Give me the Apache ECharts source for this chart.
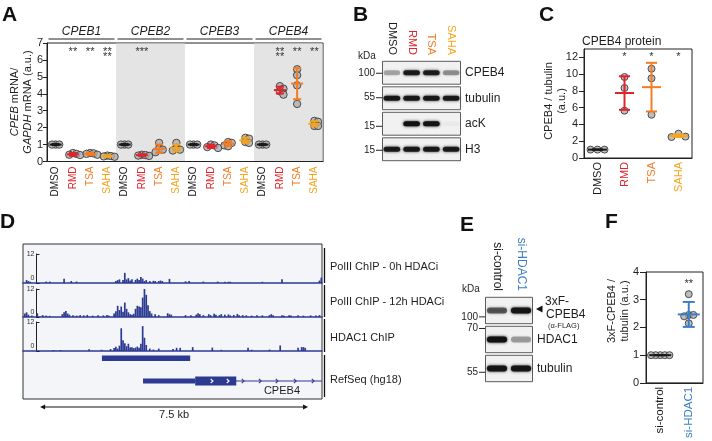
<!DOCTYPE html>
<html><head><meta charset="utf-8">
<script src="https://cdn.jsdelivr.net/npm/echarts@6.0.0/dist/echarts.min.js"></script>
<style>html,body{margin:0;padding:0;background:#fff;}#chart{width:712px;height:441px;}</style>
</head><body><div id="chart"></div>
<script>
// ================= DATA =================
// Panel A : CPEB mRNA / GAPDH mRNA
const genesA = ['CPEB1', 'CPEB2', 'CPEB3', 'CPEB4'];
const treatmentsA = ['DMSO', 'RMD', 'TSA', 'SAHA'];
const pointsA = [
  [1, 1, 1], [0.5, 0.4, 0.38, 0.45], [0.45, 0.4, 0.5, 0.48], [0.3, 0.28, 0.35, 0.32],
  [1, 1, 1], [0.35, 0.4, 0.38, 0.33], [0.55, 0.7, 1.1, 0.75], [0.65, 0.8, 1.1, 0.7],
  [1, 1, 1], [0.8, 1.0, 0.95, 0.85], [0.9, 1.15, 1.1, 0.95], [1.1, 1.4, 1.35, 1.15],
  [1, 1, 1], [4.45, 4.15, 3.95, 4.3], [5.45, 5.1, 4.5, 3.4], [2.4, 2.1, 2.35, 2.1]
];
const meansA = [1, 0.42, 0.45, 0.32, 1, 0.38, 0.75, 0.8, 1, 0.9, 1.05, 1.25, 1, 4.22, 4.6, 2.23];
const sdsA = [0.03, 0.08, 0.07, 0.05, 0.03, 0.05, 0.25, 0.2, 0.03, 0.1, 0.15, 0.15, 0.03, 0.2, 0.92, 0.15];
const starsA = [[1, '**'], [2, '**'], [3, '**\n**'], [5, '***'], [13, '**\n**'], [14, '**'], [15, '**']];
const yTicksA = [0, 1, 2, 3, 4, 5, 6, 7];
const shadedGenesA = [1, 3];
const yNameA = '{i|CPEB} mRNA/\n{i|GAPDH} mRNA (a.u.)';

// Panel B : western blot
const lanesB = ['DMSO', 'RMD', 'TSA', 'SAHA'];
const rowsB = ['CPEB4', 'tubulin', 'acK', 'H3'];
const bandsB = [
  [0.3, 0.9, 0.88, 0.38],
  [0.92, 0.92, 0.92, 0.9],
  [0, 1, 0.98, 0.03],
  [0.9, 0.93, 0.93, 0.9]
];
const markersB = [['100', 0, 0.52], ['55', 1, 0.48], ['15', 2, 0.6], ['15', 3, 0.54]];

// Panel C : CPEB4 protein
const treatC = ['DMSO', 'RMD', 'TSA', 'SAHA'];
const pointsC = [[1, 1, 1], [9.66, 8.35, 5.64], [10.65, 9.5, 5.16], [2.9, 2.5, 2.55]];
const meansC = [1, 7.75, 8.45, 2.65];
const sdsC = [0, 2.0, 2.9, 0.15];
const starsC = [[1, '*'], [2, '*'], [3, '*']];
const yTicksC = [0, 2, 4, 6, 8, 10, 12];
const yNameC = 'CPEB4 / tubulin\n(a.u.)';

// Panel D : ChIP tracks (bin index of 0.05 kb, signal)
const BIN_KB = 0.05;
const VIEW_KB = 8.37;
const chip0h = [[2,1.2],[3,0.8],[4,0.5],[13,0.6],[15,0.6],[23,1.8],[27,0.8],[30,0.6],[52,0.8],[53,1.2],[54,1.5],[56,1.2],[57,4.2],[58,1.5],[59,2.0],[60,1.0],[61,1.6],[63,1.3],[64,1.8],[65,1.2],[66,2.5],[67,1.8],[68,0.8],[69,1.2],[71,0.8],[73,0.9],[74,0.8],[76,0.8],[77,1.0],[78,0.8],[82,1.7],[91,0.7],[93,0.8],[101,0.6],[109,0.6],[113,0.5],[115,0.5],[116,0.5],[134,0.5],[145,1.6],[166,1.0],[167,2.2]];
const chip12h = [[1,1.5],[2,2.0],[3,1.0],[5,0.6],[8,1.6],[11,0.8],[13,0.6],[15,0.5],[22,1.2],[23,2.0],[24,2.6],[25,1.5],[26,1.0],[28,0.8],[30,0.6],[32,0.8],[34,0.7],[36,0.9],[39,0.6],[42,0.8],[45,0.7],[47,0.9],[48,0.6],[51,1.5],[52,2.5],[53,4.8],[54,3.0],[55,4.5],[56,2.2],[57,6.2],[58,3.5],[59,2.0],[60,1.2],[61,1.0],[62,1.4],[63,3.5],[64,4.8],[65,4.5],[66,4.2],[67,8.3],[68,12],[69,9.5],[70,5.0],[71,2.5],[72,1.5],[74,1.2],[76,0.8],[81,1.6],[82,1.2],[83,1.0],[91,0.8],[94,0.7],[97,1.0],[98,1.6],[99,1.2],[101,0.8],[104,1.2],[105,0.8],[107,1.4],[108,1.0],[110,0.8],[111,1.2],[113,1.0],[115,1.1],[116,0.7],[118,0.9],[120,1.3],[121,0.8],[123,0.8],[125,0.7],[128,0.6],[131,0.7],[134,0.7],[138,0.8],[139,1.2],[140,0.7],[145,0.8],[146,0.6],[149,0.7],[150,0.6],[154,0.7],[157,0.6],[161,0.7],[164,0.6],[166,0.8]];
const chipHDAC1 = [[17,0.4],[21,0.4],[37,0.7],[44,0.5],[49,0.8],[51,1.2],[52,1.8],[53,1.0],[54,2.2],[55,9.4],[56,4.5],[57,3.2],[58,2.0],[59,3.0],[60,1.5],[61,1.6],[62,1.2],[63,1.4],[64,1.8],[65,1.3],[66,3.0],[67,10.3],[68,5.5],[69,2.5],[71,1.0],[73,0.6],[76,1.0],[84,0.8],[86,1.3],[88,1.3],[95,1.6],[106,1.4],[111,0.5],[126,1.3],[128,0.5],[138,0.6],[144,2.3],[154,1.3],[156,1.6],[157,1.6],[158,1.3]];
const trackLabelsD = ['PolII ChIP - 0h HDACi', 'PolII ChIP - 12h HDACi', 'HDAC1 ChIP', 'RefSeq (hg18)'];
const bindingRegionKb = [2.21, 4.68];
const geneName = 'CPEB4';
const geneSpanKb = [3.36, 8.37];
const geneUtrKb = [3.36, 4.82];
const geneCdsKb = [4.82, 5.97];
const exonStrandKb = [5.29, 5.74];
const intronStrandKb = [6.16, 6.64, 7.11, 7.62, 8.12];
const scaleBarKb = [0.48, 7.98];
const scaleBarLabel = '7.5 kb';

// Panel E : western blot
const lanesE = ['si-control', 'si-HDAC1'];
const rowsE = ['3xF-CPEB4', 'HDAC1', 'tubulin'];
const bandsE = [[0.6, 0.95], [1, 0.33], [0.95, 0.95]];
const markersE = [['100', 0, 0.72], ['70', 1, 0.12], ['55', 2, 0.63]];

// Panel F : 3xF-CPEB4 / tubulin
const catF = ['si-control', 'si-HDAC1'];
const pointsF = [[1, 1, 1, 1, 1], [3.2, 2.45, 2.4, 2.45, 2.15]];
const meansF = [1, 2.47];
const sdsF = [0, 0.45];
const starsF = [[1, '**']];
const yNameF = '3xF-CPEB4 /\ntubulin (a.u.)';

// ================= STYLE =================
const FONT = '"Liberation Sans", Arial, Helvetica, sans-serif';
const TXT = '#1e1e1e';
const NAVY = '#2c3a92';
const treatColor = { DMSO: '#1a1a1a', RMD: '#e3232b', TSA: '#f47c22', SAHA: '#f6a41d' };
const siColor = { 'si-control': '#1a1a1a', 'si-HDAC1': '#3b7ec6' };

function dotSeries(xi, yi, points, means, sds, colorOf, st) {
  return {
    type: 'custom', xAxisIndex: xi, yAxisIndex: yi, clip: false, z: 5,
    data: means.map((m, i) => [i, m]),
    renderItem: function (params, api) {
      const i = params.dataIndex;
      const cx = api.coord([i, 0])[0];
      const ys = points[i].map(v => api.coord([i, v])[1]);
      const order = ys.map((_, k) => k).sort((a, b) => ys[a] - ys[b]);
      const placed = [];
      order.forEach(k => {
        for (let n = 0; n < 40; n++) {
          const m = Math.ceil(n / 2) * (n % 2 ? 1 : -1);
          const off = m * st.step;
          if (placed.every(p => Math.hypot(p[0] - off, p[1] - ys[k]) >= st.step - 1e-6)) { placed.push([off, ys[k]]); break; }
        }
      });
      const ch = placed.map(p => ({ type: 'circle', shape: { cx: cx + p[0], cy: p[1], r: st.r },
        style: { fill: 'rgba(172,172,172,0.8)', stroke: '#3c3c3c', lineWidth: 0.9 } }));
      const col = colorOf(i);
      const ym = api.coord([i, means[i]])[1];
      const yt = api.coord([i, means[i] + sds[i]])[1];
      const yb = api.coord([i, Math.max(0, means[i] - sds[i])])[1];
      const ls = { stroke: col, lineWidth: st.lw };
      ch.push({ type: 'line', shape: { x1: cx, y1: yt, x2: cx, y2: yb }, style: ls });
      ch.push({ type: 'line', shape: { x1: cx - st.cap, y1: yt, x2: cx + st.cap, y2: yt }, style: ls });
      ch.push({ type: 'line', shape: { x1: cx - st.cap, y1: yb, x2: cx + st.cap, y2: yb }, style: ls });
      ch.push({ type: 'line', shape: { x1: cx - st.mean, y1: ym, x2: cx + st.mean, y2: ym }, style: ls });
      return { type: 'group', children: ch };
    }
  };
}

function starSeries(xi, yi, stars, lineH, yOff) {
  return {
    type: 'custom', xAxisIndex: xi, yAxisIndex: yi, clip: false, z: 6,
    data: stars.map(s => [s[0], 0]),
    renderItem: function (params, api) {
      const cs = params.coordSys;
      const x = api.coord([api.value(0), 0])[0];
      return { type: 'text', style: { text: stars[params.dataIndex][1], x: x, y: cs.y + yOff,
        align: 'center', verticalAlign: 'top', fontSize: 11, fontFamily: FONT, fill: '#333', lineHeight: lineH } };
    }
  };
}

function blotSeries(xi, yi, rows, bands, markers, bandH) {
  const boxes = {
    type: 'custom', xAxisIndex: xi, yAxisIndex: yi, clip: false, z: 2,
    data: rows.map((r, i) => [0, i]),
    renderItem: function (params, api) {
      const cs = params.coordSys;
      const cy = api.coord([0, api.value(1)])[1];
      const h = api.size([1, 1])[1];
      return { type: 'rect', shape: { x: cs.x + 0.5, y: cy - h / 2 + 1.3, width: cs.width - 1, height: h - 2.6 },
        style: { fill: '#f1f1f1', stroke: '#5c5c5c', lineWidth: 1 } };
    }
  };
  const bandData = [];
  bands.forEach((row, r) => row.forEach((v, l) => bandData.push([l, r, v])));
  const bandS = {
    type: 'custom', xAxisIndex: xi, yAxisIndex: yi, z: 3,
    data: bandData,
    renderItem: function (params, api) {
      const a = api.value(2);
      if (a <= 0.01) return null;
      const c = api.coord([api.value(0), api.value(1)]);
      const w = api.size([1, 1])[0] * 0.84;
      const col = 'rgba(18,18,18,' + a + ')';
      return { type: 'rect', shape: { x: c[0] - w / 2, y: c[1] - bandH / 2, width: w, height: bandH, r: bandH / 2 },
        style: { fill: col, shadowBlur: 3, shadowColor: col } };
    }
  };
  const markS = {
    type: 'custom', xAxisIndex: xi, yAxisIndex: yi, clip: false, z: 3,
    data: markers.map(m => [0, m[1]]),
    renderItem: function (params, api) {
      const cs = params.coordSys;
      const mk = markers[params.dataIndex];
      const cy = api.coord([0, mk[1]])[1];
      const h = api.size([1, 1])[1];
      const y = cy - h / 2 + mk[2] * h;
      return { type: 'group', children: [
        { type: 'line', shape: { x1: cs.x - 6, y1: y, x2: cs.x, y2: y }, style: { stroke: '#222', lineWidth: 1 } },
        { type: 'text', style: { text: mk[0], x: cs.x - 7, y: y, align: 'right', verticalAlign: 'middle',
          fontSize: 10, fontFamily: FONT, fill: TXT } }
      ] };
    }
  };
  return [boxes, bandS, markS];
}

function trackBar(idx, data) {
  return { type: 'bar', xAxisIndex: idx, yAxisIndex: idx, barWidth: 1.7, z: 3,
    itemStyle: { color: NAVY }, data: data.map(d => [d[0] * BIN_KB, d[1]]) };
}

// ================= AXES =================
const catA = [];
genesA.forEach(g => treatmentsA.forEach(t => catA.push(g + '|' + t)));
const noAxis = (g, type, extra) => Object.assign({ gridIndex: g, type: type, show: false }, extra || {});

const xAxes = [
  { gridIndex: 0, type: 'category', data: catA.map(c => ({ value: c, textStyle: { color: treatColor[c.split('|')[1]] } })),
    axisLine: { lineStyle: { color: '#222', width: 1 } }, axisTick: { show: false },
    axisLabel: { rotate: 90, interval: 0, fontSize: 10, margin: 5, fontFamily: FONT, formatter: v => v.split('|')[1] } },
  { gridIndex: 1, type: 'category', position: 'top', data: lanesB.map(l => ({ value: l, textStyle: { color: treatColor[l] } })),
    axisLine: { show: false }, axisTick: { show: false }, axisLabel: { rotate: 90, interval: 0, fontSize: 11, margin: 5, fontFamily: FONT } },
  { gridIndex: 2, type: 'category', data: treatC.map(l => ({ value: l, textStyle: { color: treatColor[l] } })),
    axisLine: { lineStyle: { color: '#222' } }, axisTick: { show: false }, axisLabel: { rotate: 90, interval: 0, fontSize: 11, margin: 4, fontFamily: FONT } },
  noAxis(3, 'value', { min: 0, max: VIEW_KB }),
  ...[4, 5, 6].map(g => ({ gridIndex: g, type: 'value', min: 0, max: VIEW_KB,
    axisLine: { show: true, lineStyle: { color: NAVY, width: 1.6 } }, axisTick: { show: false }, axisLabel: { show: false }, splitLine: { show: false } })),
  noAxis(7, 'value', { min: 0, max: VIEW_KB }),
  { gridIndex: 8, type: 'category', position: 'top', data: lanesE.map(l => ({ value: l, textStyle: { color: siColor[l] } })),
    axisLine: { show: false }, axisTick: { show: false }, axisLabel: { rotate: 90, interval: 0, fontSize: 12, margin: 5, fontFamily: FONT } },
  { gridIndex: 9, type: 'category', data: catF.map(l => ({ value: l, textStyle: { color: siColor[l] } })),
    axisLine: { lineStyle: { color: '#222' } }, axisTick: { show: false }, axisLabel: { rotate: 90, interval: 0, fontSize: 11.5, margin: 4, fontFamily: FONT } }
];

const yAxes = [
  { gridIndex: 0, type: 'value', min: yTicksA[0], max: yTicksA[yTicksA.length - 1], interval: 1,
    axisLine: { show: true, lineStyle: { color: '#222' } }, axisTick: { show: true, length: 4, lineStyle: { color: '#222' } },
    axisLabel: { fontSize: 11, color: TXT, margin: 4, fontFamily: FONT }, splitLine: { show: false } },
  { gridIndex: 1, type: 'category', inverse: true, position: 'right', data: rowsB,
    axisLine: { show: false }, axisTick: { show: false }, axisLabel: { fontSize: 12, color: TXT, margin: 4, fontFamily: FONT } },
  { gridIndex: 2, type: 'value', min: 0, max: 13, interval: 2,
    axisLine: { show: true, lineStyle: { color: '#222' } },
    axisTick: { show: true, length: 5, lineStyle: { color: '#222' }, customValues: yTicksC },
    axisLabel: { fontSize: 11, color: TXT, margin: 6, fontFamily: FONT, customValues: yTicksC }, splitLine: { show: false } },
  noAxis(3, 'value', { min: 0, max: 1 }),
  ...[4, 5, 6].map(g => ({ gridIndex: g, type: 'value', min: 0, max: 12, interval: 12, offset: -13.5,
    axisLine: { show: true, onZero: false, lineStyle: { color: '#222', width: 1 } },
    axisTick: { show: true, inside: true, length: 3, lineStyle: { color: '#222' } },
    axisLabel: { fontSize: 7, color: '#333', margin: 2, fontFamily: FONT,
      formatter: v => (v === 0 ? '{z|0}' : '{t|' + v + '}'),
      rich: { z: { fontSize: 7, fontFamily: FONT, padding: [0, 0, 10, 0] }, t: { fontSize: 7, fontFamily: FONT } } },
    splitLine: { show: false } })),
  noAxis(7, 'value', { min: 0, max: 1 }),
  { gridIndex: 8, type: 'category', inverse: true, data: rowsE, show: false },
  { gridIndex: 9, type: 'value', min: 0, max: 4, interval: 1,
    axisLine: { show: true, lineStyle: { color: '#222' } }, axisTick: { show: true, length: 6, lineStyle: { color: '#222' } },
    axisLabel: { fontSize: 11, color: TXT, margin: 7, fontFamily: FONT }, splitLine: { show: false } }
];

// ================= SERIES =================
const series = [];
// A shading
series.push({
  type: 'custom', xAxisIndex: 0, yAxisIndex: 0, z: 1, clip: false,
  data: shadedGenesA.map(g => [g * 4, 0]),
  renderItem: function (params, api) {
    const cs = params.coordSys;
    const g = shadedGenesA[params.dataIndex];
    const bw = api.size([1, 1])[0];
    const x0 = api.coord([g * 4, 0])[0] - bw / 2;
    const x1 = Math.min(api.coord([g * 4 + 3, 0])[0] + bw / 2, cs.x + cs.width - 0.5);
    return { type: 'rect', shape: { x: x0, y: cs.y + 0.5, width: x1 - x0, height: cs.height - 1 }, style: { fill: '#e4e4e4' } };
  }
});
// A gene headers
series.push({
  type: 'custom', xAxisIndex: 0, yAxisIndex: 0, z: 4, clip: false,
  data: genesA.map((g, i) => [i * 4, 0]),
  renderItem: function (params, api) {
    const cs = params.coordSys;
    const i = params.dataIndex;
    const bw = api.size([1, 1])[0];
    const x0 = api.coord([i * 4, 0])[0] - bw / 2 + 1.5;
    const x1 = api.coord([i * 4 + 3, 0])[0] + bw / 2 - 1.5;
    const y = cs.y - 4;
    return { type: 'group', children: [
      { type: 'line', shape: { x1: x0, y1: y, x2: x1, y2: y }, style: { stroke: '#222', lineWidth: 1 } },
      { type: 'text', style: { text: genesA[i], x: (x0 + x1) / 2, y: y - 1.5, align: 'center', verticalAlign: 'bottom',
        fontSize: 12, fontStyle: 'italic', fontFamily: FONT, fill: TXT } }
    ] };
  }
});
series.push(dotSeries(0, 0, pointsA, meansA, sdsA, i => treatColor[treatmentsA[i % 4]], { r: 3.7, step: 3.6, lw: 2, cap: 4, mean: 6 }));
series.push(starSeries(0, 0, starsA, 5, 6));

// B blot
series.push(...blotSeries(1, 1, rowsB, bandsB, markersB, 5));

// C
series.push(dotSeries(2, 2, pointsC, meansC, sdsC, i => treatColor[treatC[i]], { r: 3.5, step: 7, lw: 2, cap: 5.5, mean: 9.5 }));
series.push(starSeries(2, 2, starsC, 11, 2));

// D tracks
series.push(trackBar(4, chip0h), trackBar(5, chip12h), trackBar(6, chipHDAC1));
// D RefSeq
const refData = [[bindingRegionKb[0], bindingRegionKb[1], 0], [geneSpanKb[0], geneSpanKb[1], 1],
  [geneUtrKb[0], geneUtrKb[1], 2], [geneCdsKb[0], geneCdsKb[1], 3]]
  .concat(exonStrandKb.map(k => [k, k, 4])).concat(intronStrandKb.map(k => [k, k, 5]));
series.push({
  type: 'custom', xAxisIndex: 7, yAxisIndex: 7, z: 4, clip: false,
  data: refData,
  renderItem: function (params, api) {
    const cs = params.coordSys;
    const t = api.value(2);
    const x0 = api.coord([api.value(0), 0])[0];
    const x1 = Math.min(api.coord([api.value(1), 0])[0], cs.x + cs.width);
    const gy = cs.y + 29;
    if (t === 0) return { type: 'rect', shape: { x: x0, y: cs.y + 3.5, width: x1 - x0, height: 5.5 }, style: { fill: NAVY } };
    if (t === 1) return { type: 'group', children: [
      { type: 'line', shape: { x1: x0, y1: gy, x2: x1, y2: gy }, style: { stroke: NAVY, lineWidth: 1.2 } },
      { type: 'text', style: { text: geneName, x: cs.x + cs.width - 22, y: gy + 10, align: 'right', verticalAlign: 'middle',
        fontSize: 11, fontFamily: FONT, fill: TXT } }] };
    if (t === 2) return { type: 'rect', shape: { x: x0, y: gy - 2.5, width: x1 - x0, height: 5 }, style: { fill: NAVY } };
    if (t === 3) return { type: 'rect', shape: { x: x0, y: gy - 4.6, width: x1 - x0, height: 9.2 }, style: { fill: NAVY } };
    if (t === 4) return { type: 'polyline', shape: { points: [[x0 - 1.3, gy - 2], [x0 + 1, gy], [x0 - 1.3, gy + 2]] }, style: { stroke: '#fff', lineWidth: 1.1, fill: null } };
    return { type: 'polyline', shape: { points: [[x0 - 1.3, gy - 2.2], [x0 + 1, gy], [x0 - 1.3, gy + 2.2]] }, style: { stroke: NAVY, lineWidth: 1.1, fill: null } };
  }
});
// D scale bar
series.push({
  type: 'custom', xAxisIndex: 7, yAxisIndex: 7, z: 4, clip: false,
  data: [[scaleBarKb[0], scaleBarKb[1]]],
  renderItem: function (params, api) {
    const cs = params.coordSys;
    const x0 = api.coord([api.value(0), 0])[0];
    const x1 = api.coord([api.value(1), 0])[0];
    const y = cs.y + cs.height + 8;
    return { type: 'group', children: [
      { type: 'line', shape: { x1: x0 + 2, y1: y, x2: x1 - 2, y2: y }, style: { stroke: '#111', lineWidth: 1 } },
      { type: 'polygon', shape: { points: [[x0, y], [x0 + 5, y - 2.5], [x0 + 5, y + 2.5]] }, style: { fill: '#111' } },
      { type: 'polygon', shape: { points: [[x1, y], [x1 - 5, y - 2.5], [x1 - 5, y + 2.5]] }, style: { fill: '#111' } },
      { type: 'text', style: { text: scaleBarLabel, x: (x0 + x1) / 2, y: y + 2.5, align: 'center', verticalAlign: 'top',
        fontSize: 11, fontFamily: FONT, fill: TXT } }
    ] };
  }
});

// E blot
series.push(...blotSeries(8, 8, rowsE, bandsE, markersE, 6));

// F
series.push(dotSeries(9, 9, pointsF, meansF, sdsF, i => siColor[catF[i]], { r: 3.5, step: 4.6, lw: 2, cap: 6, mean: 11 }));
series.push(starSeries(9, 9, starsF, 11, 6));

// ================= GRAPHIC (free text) =================
const T = (text, x, y, size, extra) => ({ type: 'text', silent: true,
  style: Object.assign({ text: text, x: x, y: y, fontSize: size, fontFamily: FONT, fill: TXT, verticalAlign: 'middle', align: 'left' }, extra || {}) });
const L = (text, x, y) => T(text, x, y, 21, { fontWeight: 'bold', verticalAlign: 'top', fill: '#111' });
const V = (text, x, y, rich) => ({ type: 'text', silent: true, x: x, y: y, rotation: Math.PI / 2,
  style: { text: text, x: 0, y: 0, fontSize: 11, fontFamily: FONT, fill: TXT, align: 'center', verticalAlign: 'middle', lineHeight: 13, rich: rich || {} } });
const graphic = [
  L('A', 2, 5), L('B', 353, 5), L('C', 539, 5), L('D', 0, 212), L('E', 460, 215), L('F', 605, 212),
  V(yNameA, 21.5, 102, { i: { fontStyle: 'italic', fontSize: 11, fontFamily: FONT, fill: TXT, lineHeight: 13 } }),
  V(yNameC, 555.5, 101),
  V(yNameF, 618.5, 311),
  T('CPEB4 protein', 582, 42, 12),
  T('kDa', 358, 56, 10), T('kDa', 462, 289, 10),
  T(trackLabelsD[0], 330, 267, 11), T(trackLabelsD[1], 330, 302, 11), T(trackLabelsD[2], 330, 338, 11), T(trackLabelsD[3], 330, 380, 11),
  { type: 'line', shape: { x1: 324.5, y1: 248, x2: 324.5, y2: 283 }, style: { stroke: '#111', lineWidth: 1.3 } },
  { type: 'line', shape: { x1: 324.5, y1: 285, x2: 324.5, y2: 317 }, style: { stroke: '#111', lineWidth: 1.3 } },
  { type: 'line', shape: { x1: 324.5, y1: 319, x2: 324.5, y2: 352 }, style: { stroke: '#111', lineWidth: 1.3 } },
  { type: 'line', shape: { x1: 324.5, y1: 355, x2: 324.5, y2: 397 }, style: { stroke: '#111', lineWidth: 1.3 } },
  { type: 'polygon', shape: { points: [[536, 309], [542.5, 305.5], [542.5, 312.5]] }, style: { fill: '#111' } },
  T('3xF-', 545, 302, 12), T('CPEB4', 546, 315, 12), T('(\u03b1-FLAG)', 548, 326, 7.5),
  T('HDAC1', 537, 340, 12), T('tubulin', 537, 369, 12)
];

const option = {
  animation: false,
  textStyle: { fontFamily: FONT },
  grid: [
    { left: 47, top: 43, width: 276, height: 118.5, show: true, borderColor: '#222', borderWidth: 1, backgroundColor: 'rgba(0,0,0,0)' },
    { left: 382, top: 60, width: 79, height: 102 },
    { left: 584, top: 49, width: 108, height: 109, show: true, borderColor: '#222', borderWidth: 1, backgroundColor: 'rgba(0,0,0,0)' },
    { left: 23, top: 244, width: 299, height: 155, show: true, backgroundColor: '#f4f5f9', borderColor: '#333', borderWidth: 1 },
    { left: 23, top: 254, width: 299, height: 29 },
    { left: 23, top: 289, width: 299, height: 28 },
    { left: 23, top: 322, width: 299, height: 29 },
    { left: 23, top: 352, width: 299, height: 47 },
    { left: 485, top: 296, width: 48, height: 87 },
    { left: 646, top: 272, width: 57, height: 111, show: true, borderColor: '#222', borderWidth: 1, backgroundColor: 'rgba(0,0,0,0)' }
  ],
  xAxis: xAxes,
  yAxis: yAxes,
  series: series,
  graphic: graphic
};

const chart = echarts.init(document.getElementById('chart'), null, { renderer: 'canvas', width: 712, height: 441 });
chart.setOption(option);
</script>
</body></html>
